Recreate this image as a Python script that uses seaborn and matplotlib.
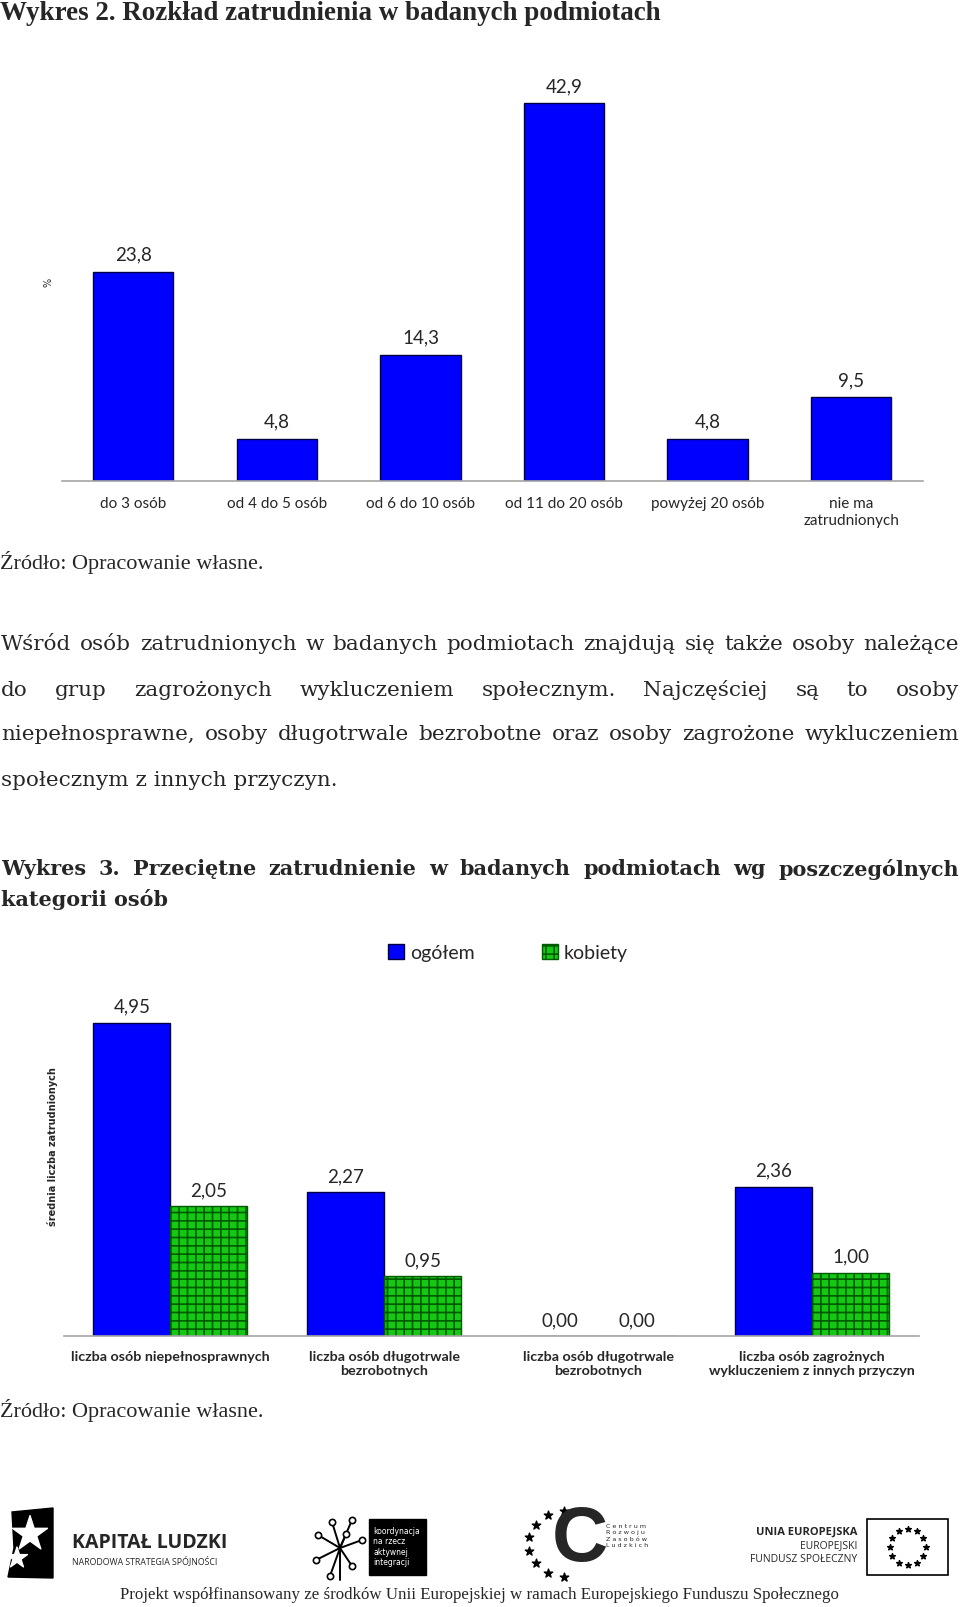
import numpy as np
import pandas as pd
import matplotlib
matplotlib.use("Agg")
import matplotlib.pyplot as plt
import seaborn as sns
from matplotlib.patches import Patch, Rectangle, Polygon

# ---------------- data ----------------
kategorie_1 = ["do 3 osób", "od 4 do 5 osób", "od 6 do 10 osób",
               "od 11 do 20 osób", "powyżej 20 osób", "nie ma\nzatrudnionych"]
procent_1 = [23.8, 4.8, 14.3, 42.9, 4.8, 9.5]

kategorie_2 = ["liczba osób niepełnosprawnych",
               "liczba osób długotrwale\nbezrobotnych",
               "liczba osób długotrwale\nbezrobotnych",
               "liczba osób zagrożnych\nwykluczeniem z innych przyczyn"]
serie_2 = ["ogółem", "kobiety"]
ogolem = [4.95, 2.27, 0.00, 2.36]
kobiety = [2.05, 0.95, 0.00, 1.00]

tytul_1 = "Wykres 2. Rozkład zatrudnienia w badanych podmiotach"
tytul_2 = ["Wykres 3. Przeciętne zatrudnienie w badanych podmiotach wg poszczególnych",
           "kategorii osób"]
zrodlo = "Źródło: Opracowanie własne."
akapit = ["Wśród osób zatrudnionych w badanych podmiotach znajdują się także osoby należące",
          "do grup zagrożonych wykluczeniem społecznym. Najczęściej są to osoby",
          "niepełnosprawne, osoby długotrwale bezrobotne oraz osoby zagrożone wykluczeniem",
          "społecznym z innych przyczyn."]
stopka = "Projekt współfinansowany ze środków Unii Europejskiej w ramach Europejskiego Funduszu Społecznego"

BLUE = "#0000FF"
GREEN = "#14C814"
DKGREEN = "#005A00"
EDGE = "#000040"
AXGRAY = "#A6A6A6"

sns.set_style("white")
plt.rcParams["font.family"] = ["DejaVu Sans"]
plt.rcParams["hatch.linewidth"] = 1.2

W, H = 960, 1607
fig = plt.figure(figsize=(W / 100, H / 100), dpi=100)

# overlay axes in pixel coordinates (y downwards)
ov = fig.add_axes([0, 0, 1, 1], zorder=0)
ov.set_xlim(0, W)
ov.set_ylim(H, 0)
ov.axis("off")
fig.canvas.draw()
R = fig.canvas.get_renderer()


def width_of(s, size, **kw):
    t = ov.text(0, 0, s, fontsize=size, **kw)
    w = t.get_window_extent(R).width
    t.remove()
    return w


def fit(s, target, **kw):
    return 10.0 * target / width_of(s, 10, **kw)


def justify(line, y, x0, x1, size, **kw):
    words = line.split(" ")
    ws = [width_of(w, size, **kw) for w in words]
    gap = (x1 - x0 - sum(ws)) / (len(words) - 1)
    x = x0
    for w, wd in zip(words, ws):
        ov.text(x, y, w, fontsize=size, ha="left", va="center", **kw)
        x += wd + gap


# ---------- texts ----------
t1kw = dict(family="Liberation Serif", fontweight="bold")
ov.text(0, 13, tytul_1, fontsize=fit(tytul_1, 664, **t1kw), ha="left", va="center", **t1kw)

zkw = dict(family="Liberation Serif")
zsize = fit(zrodlo, 264, **zkw)
ov.text(0, 562, zrodlo, fontsize=zsize, ha="left", va="center", **zkw)
ov.text(0, 1410, zrodlo, fontsize=zsize, ha="left", va="center", **zkw)

pkw = dict(family="DejaVu Serif")
psize = fit(akapit[3], 336, **pkw)
for i, yy in enumerate([645, 690, 735, 780]):
    if i < 3:
        justify(akapit[i], yy, 1, 959, psize, **pkw)
    else:
        ov.text(1, yy, akapit[i], fontsize=psize, ha="left", va="center", **pkw)

tkw = dict(family="DejaVu Serif", fontweight="bold")
tsize = fit(tytul_2[1], 167, **tkw)
justify(tytul_2[0], 869, 1, 959, tsize, **tkw)
ov.text(1, 900, tytul_2[1], fontsize=tsize, ha="left", va="center", **tkw)

ov.text(48, 282, "%", fontsize=7, rotation=90, ha="center", va="center")
ov.text(53, 1147, "średnia liczba zatrudnionych", fontsize=7, rotation=90,
        ha="center", va="center", fontweight="bold")

fkw = dict(family="Liberation Serif")
ov.text(479, 1595, stopka, fontsize=fit(stopka, 718, **fkw), ha="center", va="center", **fkw)

# ---------- logos (simplified) ----------
ov.add_patch(Polygon([(12, 1512), (53, 1508), (53, 1578), (8, 1577), (14, 1548)],
                     closed=True, color="black"))
ov.scatter([30, 17], [1534, 1558], marker="*", s=[700, 250], color="white", zorder=3)
ov.text(72, 1543, "KAPITAŁ LUDZKI", fontsize=14, family="Open Sans", fontweight="bold",
        ha="left", va="center")
ov.text(72, 1561, "NARODOWA STRATEGIA SPÓJNOŚCI", fontsize=6.3, family="Open Sans",
        ha="left", va="center")

cx, cy = 340, 1548
for (px, py) in [(332, 1522), (352, 1520), (318, 1535), (316, 1560), (330, 1576),
                 (352, 1566), (362, 1540), (346, 1534)]:
    ov.plot([cx, px], [cy, py], color="black", lw=1.4)
    ov.plot(px, py, marker="o", ms=4.5, mfc="white", mec="black", mew=1.2)
ov.plot([cx, cx], [cy, 1580], color="black", lw=1.4)
ov.add_patch(Rectangle((369, 1519), 57, 56, color="black"))
ov.text(373, 1547, "koordynacja\nna rzecz\naktywnej\nintegracji", fontsize=5.5,
        color="white", ha="left", va="center", linespacing=1.15)

ov.text(580, 1541, "C", fontsize=56, family="Liberation Sans", fontweight="bold",
        ha="center", va="center")
ang = np.deg2rad(np.linspace(100, 260, 8))
ov.scatter(572 + 44 * np.cos(ang), 1544 - 34 * np.sin(ang), marker="*", s=40,
           color="black")
ov.scatter([584], [1543], marker="*", s=40, color="white")
ov.text(606, 1536, "C e n t r u m\nR o z w o j u\nZ a s o b ó w\nL u d z k i c h",
        fontsize=4.6, ha="left", va="center", linespacing=1.3)

ov.text(857, 1532, "UNIA EUROPEJSKA", fontsize=8, fontweight="bold", family="Open Sans",
        ha="right", va="center")
ov.text(857, 1546, "EUROPEJSKI", fontsize=7.5, family="Open Sans", ha="right", va="center")
ov.text(857, 1560, "FUNDUSZ SPOŁECZNY", fontsize=7.5, family="Open Sans",
        ha="right", va="center")
ov.add_patch(Rectangle((867, 1519), 81, 56, fill=False, ec="black", lw=1.2))
ang = np.deg2rad(np.arange(0, 360, 30))
ov.scatter(907.5 + 18 * np.cos(ang), 1547 + 18 * np.sin(ang), marker="*", s=18,
           color="black")


# ---------- chart 1 ----------
def px_axes(x0, x1, ytop, ybot):
    return fig.add_axes([x0 / W, 1 - ybot / H, (x1 - x0) / W, (ybot - ytop) / H], zorder=2)


ax1 = px_axes(61.5, 923, 41, 481)
ax1.patch.set_alpha(0)
df1 = pd.DataFrame({"kategoria": kategorie_1, "procent": procent_1})
sns.barplot(data=df1, x="kategoria", y="procent", color=BLUE, saturation=1,
            width=0.56, edgecolor=EDGE, linewidth=1.0, ax=ax1)
ax1.set_ylim(0, 50)
for c in ax1.containers:
    ax1.bar_label(c, labels=[f"{v:.1f}".replace(".", ",") for v in c.datavalues],
                  padding=6, fontsize=13.5, family="Lato")

n1 = len(kategorie_1)


def style_axis(ax, n, labels, size, weight, pad, ls):
    ax.set_xlim(-0.5, n - 0.5)
    ax.set_xticks(np.arange(-0.5, n), labels=[""] * (n + 1))
    ax.set_xticks(np.arange(n), labels=labels, minor=True)
    ax.tick_params(axis="x", which="major", length=6, width=1, color=AXGRAY, direction="out")
    ax.tick_params(axis="x", which="minor", length=0, pad=pad)
    for lab in ax.get_xticklabels(minor=True):
        lab.set_fontsize(size)
        lab.set_family("Lato")
        lab.set_fontweight(weight)
        lab.set_linespacing(ls)
    ax.set_yticks([])
    ax.set_xlabel("")
    ax.set_ylabel("")
    for s in ["top", "left", "right"]:
        ax.spines[s].set_visible(False)
    ax.spines["bottom"].set_color(AXGRAY)
    ax.spines["bottom"].set_linewidth(1.2)


style_axis(ax1, n1, kategorie_1, 11, "normal", 11.5, 1.3)

# ---------- chart 2 ----------
ax2 = px_axes(63.5, 919, 956, 1336)
ax2.patch.set_alpha(0)
df2 = pd.DataFrame({
    "kat": list(range(len(kategorie_2))) * 2,
    "seria": [serie_2[0]] * len(ogolem) + [serie_2[1]] * len(kobiety),
    "wartosc": ogolem + kobiety,
})
sns.barplot(data=df2, x="kat", y="wartosc", hue="seria", hue_order=serie_2,
            palette=[BLUE, GREEN], saturation=1, width=0.72, edgecolor=EDGE,
            linewidth=1.0, ax=ax2, legend=False)
ax2.set_ylim(0, 6)
for p in ax2.containers[1]:
    p.set_hatch("++")
    p.set_edgecolor(DKGREEN)
for c in ax2.containers:
    ax2.bar_label(c, labels=[f"{v:.2f}".replace(".", ",") for v in c.datavalues],
                  padding=5, fontsize=13.5, family="Lato")
style_axis(ax2, len(kategorie_2), kategorie_2, 10.3, "bold", 10.5, 1.25)

handles = [Patch(facecolor=BLUE, edgecolor=EDGE, label=serie_2[0]),
           Patch(facecolor=GREEN, edgecolor=DKGREEN, hatch="++", label=serie_2[1])]
fig.legend(handles=handles, loc="center", bbox_to_anchor=(508 / W, 1 - 953 / H),
           ncol=2, frameon=False, handlelength=0.8, handleheight=0.8,
           handletextpad=0.3, columnspacing=3.5, prop={"family": "Lato", "size": 14})

fig.savefig("out.png", dpi=100)
